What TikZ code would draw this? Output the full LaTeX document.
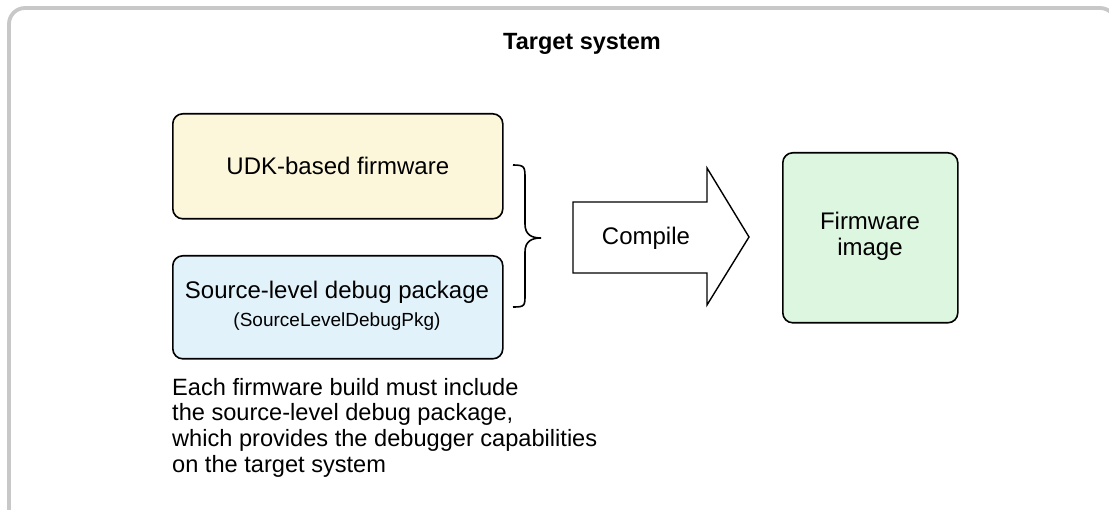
\documentclass[tikz,border=0pt]{standalone}
\usepackage{fontspec}
\setmainfont{Liberation Sans}
\definecolor{frame}{HTML}{C8C8C8}
\definecolor{yfill}{HTML}{FCF7DA}
\definecolor{bfill}{HTML}{E2F2FB}
\definecolor{gfill}{HTML}{DDF6E0}
\tikzset{
  box/.style={draw=black, line width=1.6pt, rounded corners=10pt, inner sep=0pt, anchor=north west},
  maintext/.style={font=\fontsize{24}{28}\selectfont, inner sep=0pt},
}
\begin{document}
\begin{tikzpicture}[x=1pt,y=-1pt]
\useasboundingbox (0,0) rectangle (1109,510);
\begin{scope}
\clip (0,0) rectangle (1109,510);
\draw[frame, line width=3.8pt, rounded corners=16pt] (9,8) rectangle (1116,525);
\end{scope}
\node[font=\bfseries\fontsize{23.5}{26}\selectfont, inner sep=0pt, anchor=base west] (title) at (503,50) {Target system};
% boxes
\node[box, fill=yfill, minimum width=330pt, minimum height=105pt] (udk) at (172,113) {};
\node[maintext] (udkt) at (udk.center) {UDK-based firmware};
\node[box, fill=bfill, minimum width=330pt, minimum height=103pt] (src) at (172,255) {};
\node[maintext] (srct) at (337,292) {Source-level debug package};
\node[font=\fontsize{19}{22}\selectfont, inner sep=0pt] (srcp) at (337,322) {(SourceLevelDebugPkg)};
\node[box, fill=gfill, minimum width=175pt, minimum height=170pt] (img) at (782,152) {};
\node[maintext, align=center, font=\fontsize{24}{26}\selectfont] (imgt) at (870,236) {Firmware\\image};
% brace
\coordinate (bt) at (513,165);
\coordinate (bm) at (541,238);
\coordinate (bb) at (513,307);
\draw[line width=1.6pt] (bt) .. controls (525,165) and (525,167) .. (525,179) -- (525,224)
  .. controls (525,235) and (532,238) .. (bm)
  .. controls (532,238) and (525,241) .. (525,252) -- (525,294)
  .. controls (525,306) and (525,307) .. (bb);
% block arrow
\draw[line width=1.4pt, fill=white, line join=miter] (573,202) -- (707,202) -- (707,168) -- (749,237) -- (707,305) -- (707,273) -- (573,273) -- cycle;
\node[maintext] (comp) at (646,238) {Compile};
% note
\node[maintext, align=left, anchor=north west, font=\fontsize{23.6}{25.6}\selectfont] (note) at (172,378) {Each firmware build must include\\the source-level debug package,\\which provides the debugger capabilities\\on the target system};
\end{tikzpicture}
\end{document}
